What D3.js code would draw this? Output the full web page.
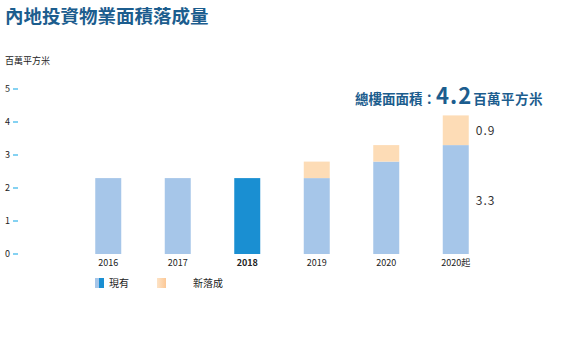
<!DOCTYPE html>
<html>
<head>
<meta charset="utf-8">
<script src="https://cdn.jsdelivr.net/npm/d3@7"></script>
<style>
  body { margin: 0; background: #fff; }
  text { font-family: "Noto Sans CJK TC", "Noto Sans", sans-serif; }
</style>
</head>
<body>
<div id="chart"></div>
<script>
// Data
const years = ["2016", "2017", "2018", "2019", "2020", "2020起"];
const existing = [2.3, 2.3, 2.3, 2.3, 2.8, 3.3];
const newlyBuilt = [0, 0, 0, 0.5, 0.5, 0.9];
const yTicks = [0, 1, 2, 3, 4, 5];
const highlightYear = "2018";

const W = 562, H = 353;
const svg = d3.select("#chart").append("svg").attr("width", W).attr("height", H);

const x = d3.scaleBand().domain(years).range([73.5, 490.5]).paddingInner(0.626).paddingOuter(0.313);
const y = d3.scaleLinear().domain([0, 5]).range([254, 89]);

const lightBlue = "#a6c6e9", darkBlue = "#1a8fd2", orange = "#fddcb6", navy = "#1c5d8e";

// title
svg.append("text").attr("x", 5).attr("y", 23)
  .attr("font-size", 18.5).attr("font-weight", "bold").attr("fill", navy)
  .text("內地投資物業面積落成量");

svg.append("text").attr("x", 5).attr("y", 64)
  .attr("font-size", 9).attr("fill", "#222").text("百萬平方米");

// y axis: just labels + small ticks
const yAxis = svg.append("g");
yAxis.selectAll("line").data(yTicks).enter().append("line")
  .attr("x1", 13).attr("x2", 18)
  .attr("y1", d => y(d)).attr("y2", d => y(d))
  .attr("stroke", "#5cc3ee").attr("stroke-width", 1.5);
yAxis.selectAll("text").data(yTicks).enter().append("text")
  .attr("x", 5).attr("y", d => y(d)).attr("dy", "0.35em")
  .attr("font-size", 9).attr("fill", "#222").text(d => d);

// bars - existing
svg.selectAll(".bar-existing").data(years).enter().append("rect")
  .attr("class", "bar-existing")
  .attr("x", d => x(d)).attr("width", x.bandwidth())
  .attr("y", (d, i) => y(existing[i]))
  .attr("height", (d, i) => y(0) - y(existing[i]))
  .attr("fill", d => d === highlightYear ? darkBlue : lightBlue);

// bars - new
svg.selectAll(".bar-new").data(years).enter().append("rect")
  .attr("class", "bar-new")
  .attr("x", d => x(d)).attr("width", x.bandwidth())
  .attr("y", (d, i) => y(existing[i] + newlyBuilt[i]))
  .attr("height", (d, i) => y(existing[i]) - y(existing[i] + newlyBuilt[i]))
  .attr("fill", orange);

// x labels
svg.selectAll(".xlab").data(years).enter().append("text")
  .attr("x", d => x(d) + x.bandwidth() / 2).attr("y", 266)
  .attr("text-anchor", "middle").attr("font-size", 9)
  .attr("font-weight", d => d === highlightYear ? "bold" : "normal")
  .attr("fill", "#222").text(d => d);

// value labels on last bar
const last = years.length - 1;
const lx = x(years[last]) + x.bandwidth() + 7;
svg.append("text").attr("x", lx).attr("y", y(existing[last] + newlyBuilt[last] / 2) + 5)
  .attr("font-size", 12).attr("fill", "#333").attr("letter-spacing", 1).text(newlyBuilt[last]);
svg.append("text").attr("x", lx).attr("y", y(existing[last] * 0.45))
  .attr("font-size", 12).attr("fill", "#333").attr("letter-spacing", 1).text(existing[last]);

// total annotation
const total = (existing[last] + newlyBuilt[last]).toFixed(1);
const ann = svg.append("text").attr("x", 355).attr("y", 104).attr("fill", navy).attr("font-weight", "bold");
ann.append("tspan").attr("font-size", 13.5).text("總樓面面積：");
ann.append("tspan").attr("font-size", 22).attr("letter-spacing", 1).text(total);
ann.append("tspan").attr("font-size", 13.5).attr("dx", 1).attr("letter-spacing", 0.5).text("百萬平方米");

// legend
const defs = svg.append("defs");
const g1 = defs.append("linearGradient").attr("id", "gBlue");
g1.append("stop").attr("offset", "0%").attr("stop-color", lightBlue);
g1.append("stop").attr("offset", "50%").attr("stop-color", lightBlue);
g1.append("stop").attr("offset", "50%").attr("stop-color", darkBlue);
g1.append("stop").attr("offset", "100%").attr("stop-color", darkBlue);
const g2 = defs.append("linearGradient").attr("id", "gOrange");
g2.append("stop").attr("offset", "0%").attr("stop-color", "#fde3c6");
g2.append("stop").attr("offset", "100%").attr("stop-color", "#fcc896");

const legend = [
  { label: "現有", fill: "url(#gBlue)", sx: 95, tx: 109 },
  { label: "新落成", fill: "url(#gOrange)", sx: 157, tx: 193 }
];
const lg = svg.selectAll(".legend").data(legend).enter().append("g").attr("class", "legend");
lg.append("rect").attr("x", d => d.sx).attr("y", 278).attr("width", 9).attr("height", 10).attr("fill", d => d.fill);
lg.append("text").attr("x", d => d.tx).attr("y", 287).attr("font-size", 10).attr("fill", "#222").text(d => d.label);
</script>
</body>
</html>
